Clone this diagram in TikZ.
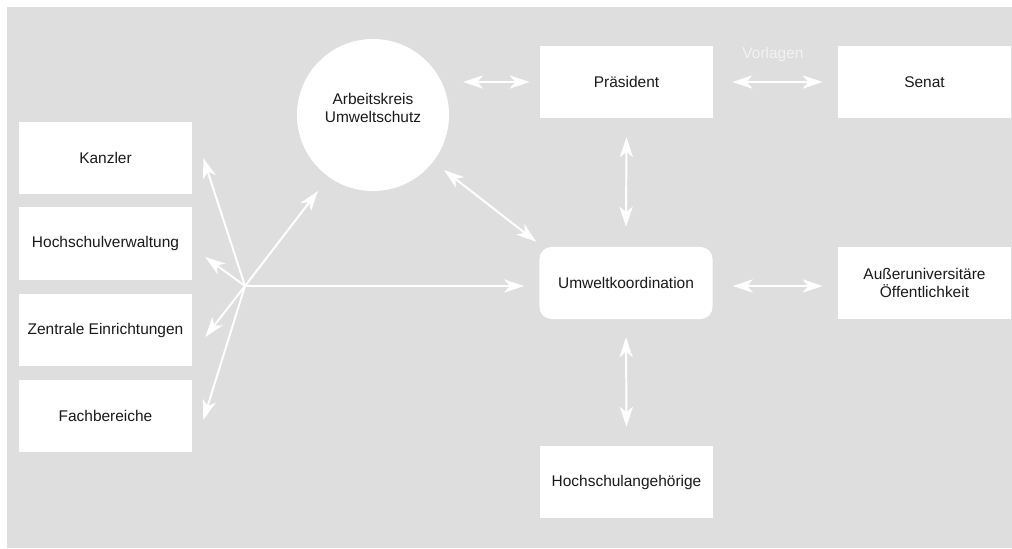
\documentclass[tikz,border=0pt]{standalone}
\usepackage{fontspec}
\setmainfont{Liberation Sans}
\usetikzlibrary{calc}
\usetikzlibrary{arrows.meta}
\definecolor{panel}{HTML}{DEDEDE}
\definecolor{ink}{HTML}{1A1A1A}
\definecolor{faint}{HTML}{F2F2F2}

\begin{document}
\begin{tikzpicture}[x=0.025cm, y=-0.025cm,
	every node/.style={font=\fontsize{11}{13}\selectfont, text=ink},
	unit/.style={fill=white, minimum width=4.325cm, minimum height=1.8cm, align=center, inner sep=0pt},
	link/.style={white, line width=1.4pt, {Stealth[length=0.5cm,width=0.33cm,inset=0.14cm]}-{Stealth[length=0.5cm,width=0.33cm,inset=0.14cm]}},
	fanarrow/.style={white, line width=1.4pt, -{Stealth[length=0.5cm,width=0.33cm,inset=0.14cm]}}]
	% 1012 x 548 px, one unit = one px
	\useasboundingbox (0,0) rectangle (1012,548);
	\fill[panel] (7,7) rectangle (1012,548);

	% left column
	\node[unit] (kanzler) at (105.5,158) {Kanzler};
	\node[unit] (verwaltung) at (105.5,243.5) {Hochschulverwaltung};
	\node[unit] (zentral) at (105.5,330) {Zentrale Einrichtungen};
	\node[unit] (fach) at (105.5,416) {Fachbereiche};

	% centre and right
	\node[circle, fill=white, minimum size=3.8cm, inner sep=0pt] (kreis) at (373,115)
		{\raisebox{0pt}[\height][\dimexpr\depth+0.25cm\relax]{\begin{tabular}{@{}c@{}}Arbeitskreis\\Umweltschutz\end{tabular}}};
	\node[unit] (pres) at (626.5,82) {Präsident};
	\node[unit] (senat) at (924.5,82) {Senat};
	\node[unit, rounded corners=0.3cm] (koord) at (626,283) {Umweltkoordination};
	\node[unit] (oeff) at (924.5,283) {Außeruniversitäre\\Öffentlichkeit};
	\node[unit] (angeh) at (626.5,482) {Hochschulangehörige};
	\node[text=faint] (vorlagen) at (773,54) {Vorlagen};

	% double arrows
	\draw[link] ($(kreis.center)+(90,-33)$) -- ($(pres.west)+(-10,0)$);
	\draw[link] ($(pres.east)+(19,0)$) -- ($(senat.west)+(-15,0)$);
	\draw[link] ($(pres.south)+(0,19)$) -- ($(koord.north)+(0,-20)$);
	\draw[link] ($(koord.south)+(0,18)$) -- ($(angeh.north)+(0,-19)$);
	\draw[link] ($(koord.east)+(20,3)$) -- ($(oeff.west)+(-15,3)$);
	\draw[link] ($(kreis.center)+(71,55)$) -- ($(koord.north west)+(-3,-5)$);

	% fan from the left column
	\coordinate (hub) at (245,286);
	\draw[fanarrow] (hub) -- ($(koord.west)+(-15,3)$);
	\draw[fanarrow] (hub) -- ($(kreis.center)+(-55,76)$);
	\draw[fanarrow] (hub) -- ($(kanzler.east)+(11,0)$);
	\draw[fanarrow] (hub) -- ($(verwaltung.east)+(13,13.5)$);
	\draw[fanarrow] (hub) -- ($(zentral.east)+(13,7)$);
	\draw[fanarrow] (hub) -- ($(fach.east)+(11,4)$);
\end{tikzpicture}
\end{document}
